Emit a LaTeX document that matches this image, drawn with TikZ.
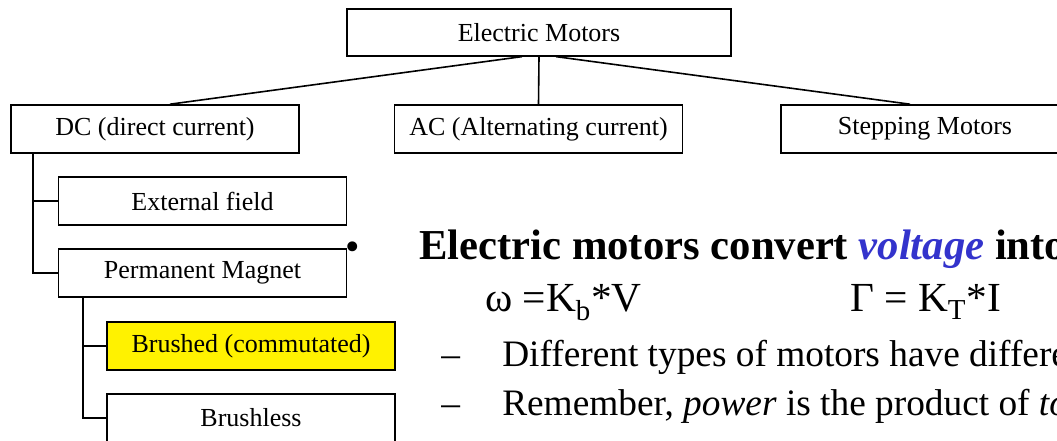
\documentclass[tikz,border=0pt]{standalone}
\usepackage{fontspec}
\setmainfont{Liberation Serif}
\usepackage{xcolor}
\usepackage{tikz}
\definecolor{voltblue}{RGB}{51,51,204}

\begin{document}
\begin{tikzpicture}[
  x=0.75pt, y=-0.75pt,
  kind/.style = {draw, line width=1.2pt, inner sep=0pt, font=\fontsize{19.5}{23}\selectfont, minimum width=216pt, minimum height=36pt},
  hilite/.style = {kind, fill=yellow},
  link/.style = {line width=1.2pt},
  body/.style = {anchor=base west, inner sep=0pt, font=\fontsize{28}{32}\selectfont},
  formula/.style = {body, font=\fontsize{31}{36}\selectfont},
]
\useasboundingbox (0,0) rectangle (1057,441);
\clip (0,0) rectangle (1057,441);
\node[kind, minimum width=288pt, minimum height=35pt] (em) at (539,32.5) {Electric Motors};
\node[kind] (dc) at (155,129) {DC (direct current)};
\node[kind] (ac) at (538.5,129) {AC (Alternating current)};
\node[kind] (stp) at (925,129) {Stepping Motors};
\node[kind] (ext) at (202.5,201) {External field};
\node[kind] (pm) at (202.5,273) {Permanent Magnet};
\node[hilite] (brd) at (251,346) {Brushed (commutated)};
\node[kind] (brl) at (251,418) {Brushless};
\draw[link] ([xshift=-12.75pt]em.south) -- ([xshift=11.25pt]dc.north);
\draw[link] (em.south) -- (ac.north);
\draw[link] ([xshift=12.75pt]em.south) -- ([xshift=-11.25pt]stp.north);
\draw[link] ([xshift=17.25pt]dc.south west) |- (ext.west);
\draw[link] ([xshift=17.25pt]dc.south west) |- (pm.west);
\draw[link] ([xshift=18.75pt]pm.south west) |- (brd.west);
\draw[link] ([xshift=18.75pt]pm.south west) |- (brl.west);
% text beside the tree
\node[formula, anchor=base] (dot) at (353,261) {•};
\node[body, font=\bfseries\fontsize{32}{36}\selectfont] (claim) at (419,260) {Electric motors convert \textcolor{voltblue}{\textit{voltage}} into};
\node[formula] (speed) at (485,312) {ω =K\textsubscript{b}*V};
\node[formula] (torque) at (850,312) {Γ = K\textsubscript{T}*I};
\node[body] (dash1) at (441,367) {–};
\node[body] (kinds) at (502,367) {Different types of motors have differe};
\node[body] (dash2) at (441,416) {–};
\node[body] (power) at (502,416) {Remember, \textit{power} is the product of \textit{to}};
\end{tikzpicture}
\end{document}
